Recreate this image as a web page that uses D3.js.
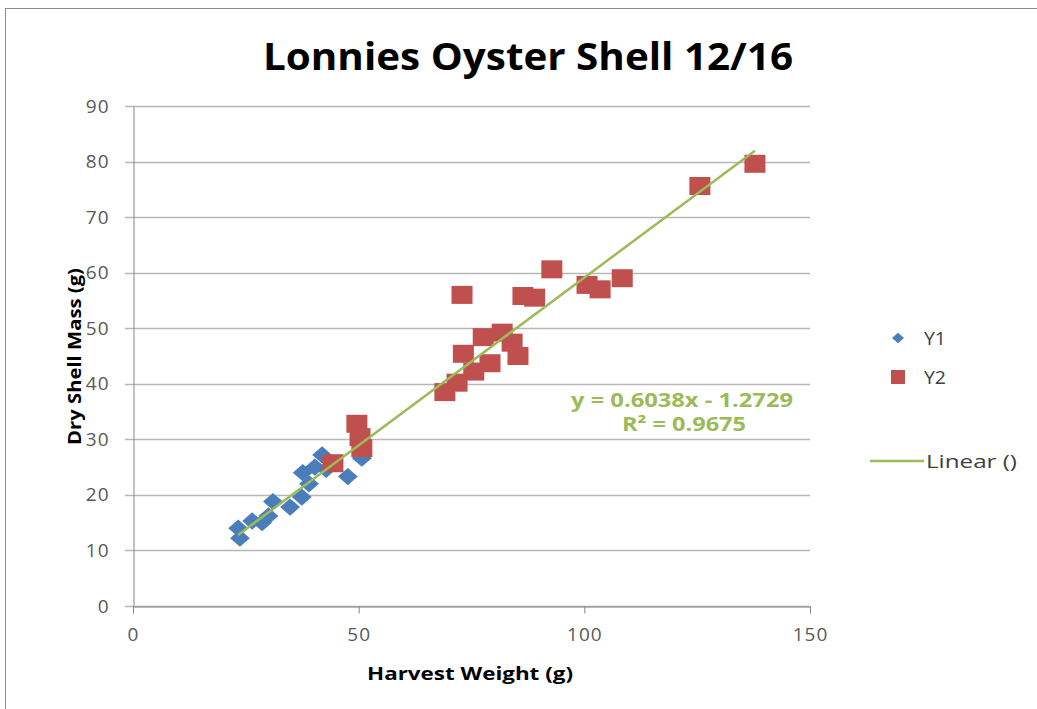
<!DOCTYPE html>
<html>
<head>
<meta charset="utf-8">
<script src="https://cdn.jsdelivr.net/npm/d3@7"></script>
<style>
  body { margin: 0; background: #fff; }
  text { font-family: "Open Sans", "DejaVu Sans", sans-serif; }
</style>
</head>
<body>
<script>
var title = "Lonnies Oyster Shell 12/16";
var xLabel = "Harvest Weight (g)";
var yLabel = "Dry Shell Mass (g)";

// Y1 series (blue diamonds)
var y1X = [23.7, 23.3, 26.4, 28.6, 30.0, 31.0, 34.8, 37.4, 37.6, 39.0, 40.3, 41.9, 42.8, 47.6, 50.7];
var y1Y = [12.2, 14.0, 15.3, 15.0, 16.2, 18.8, 17.8, 19.6, 24.0, 22.0, 25.0, 27.2, 24.6, 23.3, 26.6];

// Y2 series (red squares)
var y2X = [44.3, 49.6, 50.3, 50.7, 69.1, 71.8, 72.9, 73.2, 75.5, 77.6, 79.1, 81.8, 84.0, 85.3,
           86.4, 89.0, 92.8, 100.6, 103.5, 108.4, 125.6, 137.8];
var y2Y = [25.7, 32.8, 30.4, 28.4, 38.5, 40.2, 56.0, 45.4, 42.2, 48.4, 43.7, 49.2, 47.4, 45.0,
           55.8, 55.5, 60.6, 57.8, 57.0, 59.0, 75.6, 79.6];

var slope = 0.6038, intercept = -1.2729;
var eqText = "y = 0.6038x - 1.2729";
var r2Text = "R² = 0.9675";

var xTicks = [0, 50, 100, 150];
var yTicks = [0, 10, 20, 30, 40, 50, 60, 70, 80, 90];

var width = 1037, height = 709;
var margin = {left: 133, top: 106, right: 227, bottom: 103};

var svg = d3.select("body").append("svg")
  .attr("width", width)
  .attr("height", height);

// chart frame
svg.append("rect")
  .attr("x", 5.5).attr("y", 8.5)
  .attr("width", width).attr("height", height)
  .attr("fill", "none")
  .attr("stroke", "#8c8c8c");

var x = d3.scaleLinear().domain([0, 150]).range([margin.left, width - margin.right]);
var y = d3.scaleLinear().domain([0, 90]).range([height - margin.bottom, margin.top]);

// gridlines
svg.append("g")
  .selectAll("line")
  .data(yTicks)
.enter().append("line")
  .attr("x1", x(0) - 8).attr("x2", x(150))
  .attr("y1", function(d) { return Math.round(y(d)) + 0.5; })
  .attr("y2", function(d) { return Math.round(y(d)) + 0.5; })
  .attr("stroke", "#b8b8b8")
  .attr("stroke-width", 1.5);

// y axis
var yAxis = svg.append("g")
  .attr("transform", "translate(" + (x(0) + 0.5) + ",0)")
  .call(d3.axisLeft(y).tickValues(yTicks).tickSize(0).tickPadding(24));
yAxis.select(".domain").attr("stroke", "#868686");
yAxis.selectAll("text")
  .attr("font-size", 19)
  .attr("letter-spacing", 1)
  .attr("fill", "#595959")
  .attr("font-family", "Open Sans, sans-serif");

// x axis
var xAxis = svg.append("g")
  .attr("transform", "translate(0," + (Math.round(y(0)) + 0.5) + ")")
  .call(d3.axisBottom(x).tickValues(xTicks).tickSize(7).tickPadding(14));
xAxis.select(".domain").attr("stroke", "#868686");
xAxis.selectAll(".tick line").attr("stroke", "#868686");
xAxis.selectAll("text")
  .attr("font-size", 19)
  .attr("letter-spacing", 1)
  .attr("fill", "#595959")
  .attr("font-family", "Open Sans, sans-serif");

// Y1 diamonds
var diamond = d3.symbol().type(d3.symbolDiamond2).size(190);
svg.append("g")
  .selectAll("path")
  .data(d3.range(y1X.length))
.enter().append("path")
  .attr("d", diamond)
  .attr("transform", function(i) { return "translate(" + x(y1X[i]) + "," + y(y1Y[i]) + ") scale(1.15,1)"; })
  .attr("fill", "#4a7ebb");

// Y2 squares
svg.append("g")
  .selectAll("rect")
  .data(d3.range(y2X.length))
.enter().append("rect")
  .attr("x", function(i) { return x(y2X[i]) - 10.5; })
  .attr("y", function(i) { return y(y2Y[i]) - 9; })
  .attr("width", 21)
  .attr("height", 18)
  .attr("fill", "#c0504d");

// trend line
var allX = y1X.concat(y2X);
var xMin = d3.min(allX), xMax = d3.max(allX);
svg.append("line")
  .attr("x1", x(xMin)).attr("y1", y(slope * xMin + intercept))
  .attr("x2", x(xMax)).attr("y2", y(slope * xMax + intercept))
  .attr("stroke", "#9bbb59")
  .attr("stroke-width", 2.5);

// equation
svg.append("text")
  .attr("x", 571).attr("y", 407)
  .attr("font-size", 19).attr("font-weight", "bold")
  .attr("textLength", 222).attr("lengthAdjust", "spacingAndGlyphs")
  .attr("fill", "#9bbb59")
  .text(eqText);
svg.append("text")
  .attr("x", 622).attr("y", 431)
  .attr("font-size", 19).attr("font-weight", "bold")
  .attr("textLength", 124).attr("lengthAdjust", "spacingAndGlyphs")
  .attr("fill", "#9bbb59")
  .text(r2Text);

// title
svg.append("text")
  .attr("x", 263).attr("y", 70)
  .attr("font-size", 38).attr("font-weight", "bold")
  .attr("textLength", 530).attr("lengthAdjust", "spacingAndGlyphs")
  .attr("fill", "#000")
  .text(title);

// axis titles
svg.append("text")
  .attr("x", 367).attr("y", 680)
  .attr("font-size", 18).attr("font-weight", "bold")
  .attr("textLength", 206).attr("lengthAdjust", "spacingAndGlyphs")
  .attr("fill", "#000")
  .text(xLabel);
svg.append("text")
  .attr("transform", "translate(81,445) rotate(-90)")
  .attr("font-size", 17).attr("font-weight", "bold")
  .attr("textLength", 177).attr("lengthAdjust", "spacingAndGlyphs")
  .attr("fill", "#000")
  .text(yLabel);

// legend
var legend = svg.append("g");
legend.append("path")
  .attr("d", d3.symbol().type(d3.symbolDiamond2).size(70))
  .attr("transform", "translate(898,338) scale(1.15,1)")
  .attr("fill", "#4a7ebb");
legend.append("text")
  .attr("x", 924).attr("y", 345)
  .attr("font-size", 18).attr("fill", "#404040")
  .attr("textLength", 22).attr("lengthAdjust", "spacingAndGlyphs")
  .text("Y1");
legend.append("rect")
  .attr("x", 891).attr("y", 370).attr("width", 14).attr("height", 14)
  .attr("fill", "#c0504d");
legend.append("text")
  .attr("x", 924).attr("y", 384)
  .attr("font-size", 18).attr("fill", "#404040")
  .attr("textLength", 22).attr("lengthAdjust", "spacingAndGlyphs")
  .text("Y2");
legend.append("line")
  .attr("x1", 870).attr("x2", 924).attr("y1", 461).attr("y2", 461)
  .attr("stroke", "#9bbb59").attr("stroke-width", 2.5);
legend.append("text")
  .attr("x", 926).attr("y", 468)
  .attr("font-size", 19).attr("fill", "#404040")
  .attr("textLength", 91).attr("lengthAdjust", "spacingAndGlyphs")
  .text("Linear ()");
</script>
</body>
</html>
